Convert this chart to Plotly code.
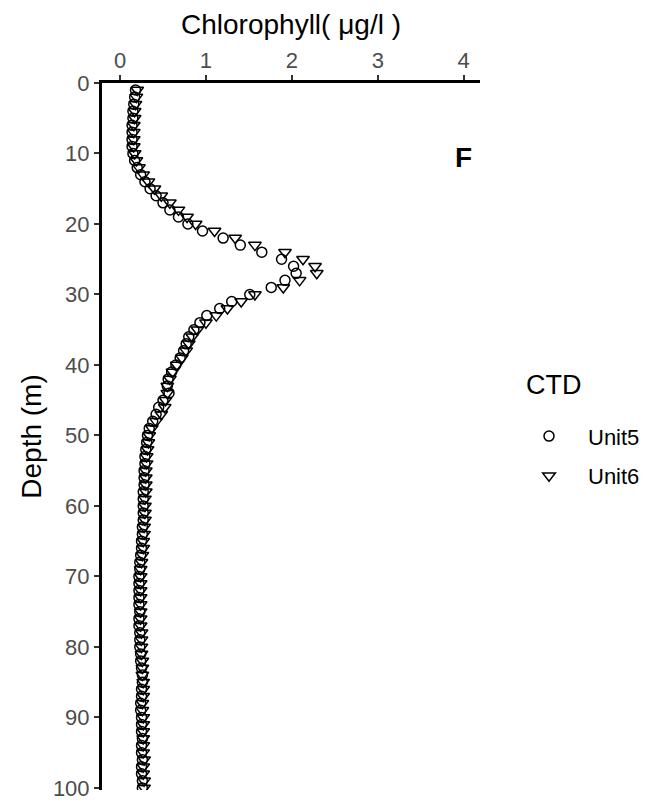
import plotly.graph_objects as go

depth = list(range(1, 101))

unit5 = [
    0.18, 0.17, 0.16, 0.15, 0.15, 0.14, 0.14, 0.14, 0.14, 0.15,
    0.17, 0.20, 0.24, 0.29, 0.35, 0.42, 0.50, 0.58, 0.68, 0.79,
    0.96, 1.20, 1.40, 1.65, 1.88, 2.02, 2.05, 1.92, 1.76, 1.51,
    1.30, 1.16, 1.01, 0.93, 0.86, 0.80, 0.77, 0.74, 0.70, 0.65,
    0.60, 0.56, 0.55, 0.57, 0.50, 0.45, 0.42, 0.38, 0.34, 0.32,
    0.31, 0.30, 0.29, 0.29, 0.28, 0.28, 0.28, 0.27, 0.27, 0.27,
    0.27, 0.27, 0.26, 0.26, 0.25, 0.25, 0.24, 0.23, 0.23, 0.22,
    0.22, 0.22, 0.22, 0.22, 0.23, 0.22, 0.22, 0.23, 0.23, 0.23,
    0.24, 0.24, 0.25, 0.26, 0.26, 0.25, 0.25, 0.24, 0.24, 0.25,
    0.25, 0.25, 0.26, 0.25, 0.25, 0.26, 0.25, 0.25, 0.26, 0.26,
]

unit6 = [
    0.20, 0.19, 0.18, 0.17, 0.17, 0.16, 0.16, 0.16, 0.16, 0.17,
    0.19, 0.22, 0.27, 0.33, 0.40, 0.48, 0.58, 0.68, 0.78, 0.88,
    1.10, 1.34, 1.57, 1.92, 2.13, 2.27, 2.29, 2.09, 1.90, 1.57,
    1.41, 1.25, 1.12, 1.00, 0.90, 0.84, 0.80, 0.77, 0.72, 0.66,
    0.61, 0.58, 0.55, 0.55, 0.53, 0.52, 0.48, 0.42, 0.37, 0.34,
    0.33, 0.32, 0.31, 0.31, 0.30, 0.30, 0.30, 0.30, 0.29, 0.29,
    0.29, 0.29, 0.28, 0.28, 0.27, 0.27, 0.26, 0.25, 0.24, 0.24,
    0.24, 0.24, 0.24, 0.24, 0.24, 0.24, 0.24, 0.25, 0.25, 0.25,
    0.25, 0.26, 0.26, 0.26, 0.27, 0.27, 0.27, 0.26, 0.26, 0.27,
    0.27, 0.27, 0.27, 0.27, 0.27, 0.28, 0.27, 0.27, 0.28, 0.28,
]

x_ticks = [0, 1, 2, 3, 4]
y_ticks = [0, 10, 20, 30, 40, 50, 60, 70, 80, 90, 100]

FONT = "Liberation Sans, Arial, sans-serif"

# page body has an 8px margin; figure is sized so the plot area lands at
# x 102..480, y 83..790 in the 651x804 window
fig = go.Figure()
fig.add_trace(go.Scatter(
    x=unit5, y=depth, mode="markers", name="Unit5", legendgroup="u5",
    marker=dict(symbol="circle-open", size=10, color="black", line=dict(width=1.5, color="black")),
))
fig.add_trace(go.Scatter(
    x=unit6, y=depth, mode="markers", name="Unit6", legendgroup="u6",
    marker=dict(symbol="triangle-down-open", size=11, color="black", line=dict(width=1.5, color="black")),
))

fig.add_annotation(x=4.0, y=10.5, xref="x", yref="y", text="<b>F</b>", showarrow=False,
                   font=dict(size=28, color="black", family=FONT))

# legend title as text
fig.add_annotation(x=(524 - 102) / 378, y=(790 - 385) / 707, xref="paper", yref="paper",
                   text="CTD", showarrow=False, xanchor="left", yanchor="middle",
                   font=dict(size=27, color="black", family=FONT))

fig.update_layout(
    width=643, height=796,
    margin=dict(l=94, r=171, t=75, b=14, autoexpand=False),
    plot_bgcolor="white", paper_bgcolor="white",
    font=dict(family=FONT, color="black"),
    showlegend=True,
    legend=dict(
        x=(510 - 102) / 378, y=0.530, xanchor="left", yanchor="top",
        font=dict(size=22, family=FONT, color="black"),
        tracegroupgap=8, itemsizing="trace", itemwidth=68,
        bgcolor="rgba(0,0,0,0)",
    ),
    xaxis=dict(
        side="top", range=[-0.21, 4.19], tickvals=x_ticks,
        ticktext=[str(v) for v in x_ticks], automargin=False,
        showgrid=False, zeroline=False,
        showline=True, linecolor="black", linewidth=3, mirror=False,
        ticks="outside", ticklen=5, tickwidth=2, tickcolor="#333333",
        ticklabelstandoff=-2,
        tickfont=dict(size=22, color="#4d4d4d", family=FONT),
        title=dict(text="Chlorophyll( μg/l )", font=dict(size=28, color="black", family=FONT), standoff=6),
    ),
    yaxis=dict(
        range=[100.3, 0], tickvals=y_ticks,
        ticktext=[str(v) for v in y_ticks], automargin=False,
        showgrid=False, zeroline=False,
        showline=True, linecolor="black", linewidth=3,
        ticks="outside", ticklen=5, tickwidth=2, tickcolor="#333333",
        tickfont=dict(size=22, color="#4d4d4d", family=FONT),
        title=dict(text="Depth (m)", font=dict(size=28, color="black", family=FONT), standoff=4),
    ),
)

fig.write_html("out.html")
